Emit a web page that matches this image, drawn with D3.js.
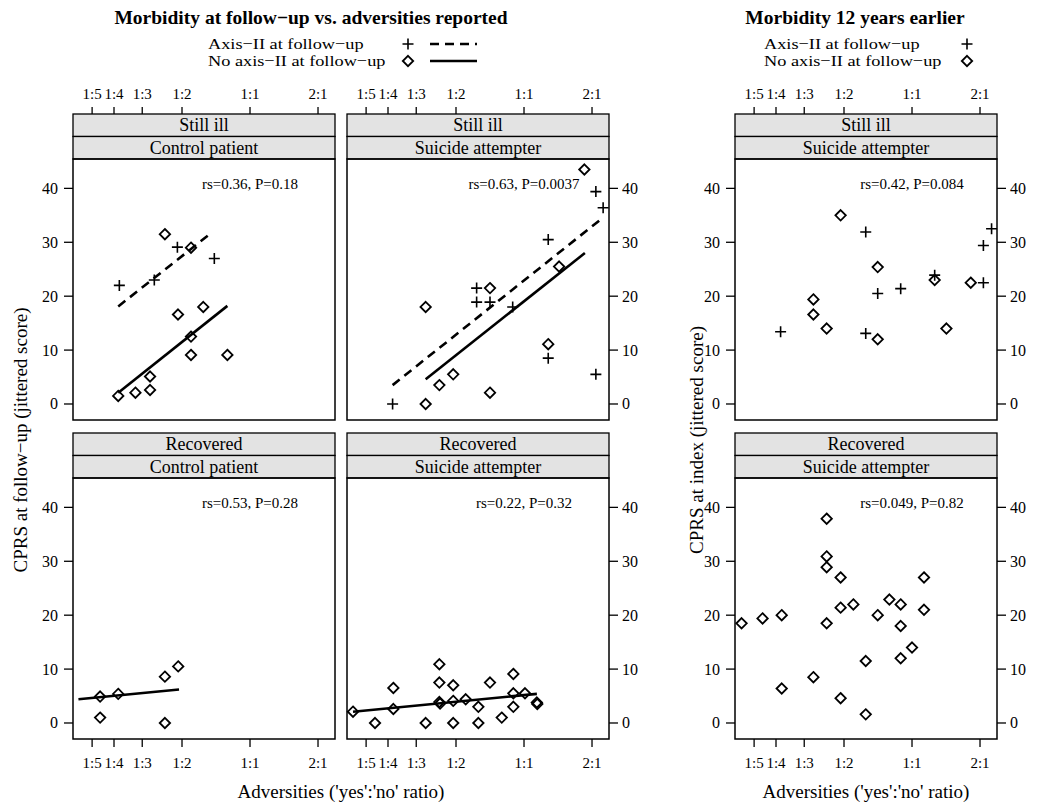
<!DOCTYPE html>
<html><head><meta charset="utf-8">
<script src="https://cdn.jsdelivr.net/npm/d3@7/dist/d3.min.js"></script>
<style>
body{margin:0;background:#fff;}
text{font-family:"Liberation Serif","Times New Roman",serif;fill:#000;}
</style></head>
<body>
<svg id="chart" width="1041" height="802"></svg>
<script>
// ---- tick data ----
const xTickValues = [1/5, 1/4, 1/3, 1/2, 1, 2];
const xTickLabels = ["1:5", "1:4", "1:3", "1:2", "1:1", "2:1"];
const yTickValues = [0, 10, 20, 30, 40];

// ---- panel 1: follow-up, Still ill, Control patient ----
const illControlAxisII = [[0.264,22],[0.377,23],[0.477,29.1],[0.695,27]];
const illControlNoAxisII = [[0.42,31.5],[0.548,29],[0.48,16.6],[0.621,18],[0.548,12.5],[0.548,9.1],[0.794,9.1],[0.361,5.1],[0.361,2.6],[0.311,2.1],[0.261,1.5]];
const illControlFitAxisII = [[0.261,18.1],[0.677,31.8]];
const illControlFitNoAxisII = [[0.261,2.1],[0.794,18.2]];

// ---- panel 2: follow-up, Still ill, Suicide attempter ----
const illSuicideAxisII = [[0.262,0],[0.617,21.5],[0.617,18.9],[0.707,18.9],[0.891,18],[1.28,30.5],[1.28,8.5],[2.08,39.4],[2.24,36.4],[2.08,5.5]];
const illSuicideNoAxisII = [[1.85,43.5],[0.707,21.5],[0.367,18],[1.43,25.5],[1.28,11.1],[0.486,5.5],[0.422,3.5],[0.707,2.1],[0.367,0]];
const illSuicideFitAxisII = [[0.262,3.5],[2.21,34.4]];
const illSuicideFitNoAxisII = [[0.367,4.6],[1.86,28]];

// ---- panel 3: follow-up, Recovered, Control patient ----
const recControlNoAxisII = [[0.217,4.9],[0.261,5.4],[0.217,1.0],[0.42,8.6],[0.481,10.5],[0.42,0]];
const recControlFitNoAxisII = [[0.174,4.4],[0.485,6.2]];

// ---- panel 4: follow-up, Recovered, Suicide attempter ----
const recSuicideNoAxisII = [[0.175,2.1],[0.219,0],[0.264,6.5],[0.264,2.6],[0.367,0],[0.422,10.9],[0.422,7.5],[0.422,3.9],[0.425,3.6],[0.486,7.0],[0.486,4.1],[0.486,0],[0.552,4.4],[0.628,3.0],[0.628,0],[0.707,7.5],[0.797,1.0],[0.897,9.1],[0.897,5.5],[0.897,3.0],[1.01,5.5],[1.14,3.8],[1.145,3.5]];
const recSuicideFitNoAxisII = [[0.175,2.1],[1.14,5.4]];

// ---- panel 5: 12 years earlier, Still ill, Suicide attempter ----
const earlyIllAxisII = [[0.262,13.4],[0.624,31.9],[0.624,13.1],[0.705,20.5],[0.891,21.4],[1.26,23.9],[2.07,29.4],[2.07,22.5],[2.25,32.5]];
const earlyIllNoAxisII = [[0.483,35],[0.366,19.4],[0.366,16.6],[0.419,14],[0.705,25.4],[0.705,12],[1.26,23],[1.42,14],[1.82,22.5]];

// ---- panel 6: 12 years earlier, Recovered, Suicide attempter ----
const earlyRecNoAxisII = [[0.176,18.5],[0.218,19.4],[0.265,20],[0.265,6.4],[0.366,8.5],[0.419,37.9],[0.419,30.9],[0.419,28.9],[0.419,18.5],[0.483,27],[0.483,21.4],[0.483,4.6],[0.55,22],[0.624,11.5],[0.624,1.6],[0.705,20],[0.794,22.9],[0.891,22],[0.891,18],[0.891,12],[1.0,14],[1.13,27],[1.13,21]];

const statLabels = ["rs=0.36, P=0.18","rs=0.63, P=0.0037","rs=0.53, P=0.28","rs=0.22, P=0.32","rs=0.42, P=0.084","rs=0.049, P=0.82"];

// ---- layout ----
const svg = d3.select("#chart");
const PW = 262, PH = 261, SH = 22.5;
const x = d3.scaleLog().domain([0.1646, 2.378]).range([0, PW]);
const y = d3.scaleLinear().domain([-2.97, 45.45]).range([PH, 0]);
const XFONT = 15, YFONT = 16;

const diamondPath = "M0,-5.2L5.2,0L0,5.2L-5.2,0Z";
const plusPath = "M-5.5,0H5.5M0,-5.5V5.5";

function panel(cfg) {
  const g = svg.append("g").attr("transform", `translate(${cfg.left},${cfg.top})`);
  cfg.strips.forEach((s, i) => {
    const sy = -SH * (cfg.strips.length - i);
    g.append("rect").attr("x", 0).attr("y", sy).attr("width", PW).attr("height", SH)
      .attr("fill", "#e3e3e3").attr("stroke", "#000").attr("stroke-width", 1.3);
    g.append("text").attr("x", PW / 2).attr("y", sy + SH / 2 + 6)
      .attr("text-anchor", "middle").attr("font-size", 18).text(s);
  });
  const stripTop = -SH * cfg.strips.length;
  g.append("rect").attr("x", 0).attr("y", 0).attr("width", PW).attr("height", PH)
    .attr("fill", "none").attr("stroke", "#000").attr("stroke-width", 1.5);
  const clipId = "clip" + cfg.left + "_" + cfg.top;
  g.append("clipPath").attr("id", clipId).append("rect").attr("width", PW).attr("height", PH);
  const plot = g.append("g").attr("clip-path", `url(#${clipId})`);

  const tickStroke = 1.3;
  if (cfg.xTop) {
    const a = g.append("g").attr("transform", `translate(0,${stripTop})`);
    xTickValues.forEach((v, i) => {
      a.append("line").attr("x1", x(v)).attr("x2", x(v)).attr("y1", 0).attr("y2", -7).attr("stroke", "#000").attr("stroke-width", tickStroke);
      a.append("text").attr("x", x(v)).attr("y", -15).attr("text-anchor", "middle").attr("font-size", XFONT).text(xTickLabels[i]);
    });
  }
  if (cfg.xBottom) {
    xTickValues.forEach((v, i) => {
      g.append("line").attr("x1", x(v)).attr("x2", x(v)).attr("y1", PH).attr("y2", PH + 8).attr("stroke", "#000").attr("stroke-width", tickStroke);
      g.append("text").attr("x", x(v)).attr("y", PH + 29).attr("text-anchor", "middle").attr("font-size", XFONT).text(xTickLabels[i]);
    });
  }
  if (cfg.yLeft) {
    yTickValues.forEach(v => {
      g.append("line").attr("x1", 0).attr("x2", -9).attr("y1", y(v)).attr("y2", y(v)).attr("stroke", "#000").attr("stroke-width", tickStroke);
      g.append("text").attr("x", -15).attr("y", y(v) + 5.5).attr("text-anchor", "end").attr("font-size", YFONT).text(v);
    });
  }
  if (cfg.yRight) {
    yTickValues.forEach(v => {
      g.append("line").attr("x1", PW).attr("x2", PW + 9).attr("y1", y(v)).attr("y2", y(v)).attr("stroke", "#000").attr("stroke-width", tickStroke);
      g.append("text").attr("x", PW + 13).attr("y", y(v) + 5.5).attr("text-anchor", "start").attr("font-size", YFONT).text(v);
    });
  }
  g.append("text").attr("x", x(1)).attr("y", y(40.9) + 5).attr("text-anchor", "middle")
    .attr("font-size", 15).text(cfg.stat);

  const line = d3.line().x(d => x(d[0])).y(d => y(d[1]));
  if (cfg.fitDashed) plot.append("path").datum(cfg.fitDashed).attr("d", line)
    .attr("stroke", "#000").attr("stroke-width", 2.6).attr("stroke-dasharray", "9,6").attr("fill", "none");
  if (cfg.fitSolid) plot.append("path").datum(cfg.fitSolid).attr("d", line)
    .attr("stroke", "#000").attr("stroke-width", 2.6).attr("fill", "none");

  const g2 = g.append("g");
  if (cfg.plus) g2.selectAll(".pl").data(cfg.plus).enter().append("path")
    .attr("transform", d => `translate(${x(d[0])},${y(d[1])})`).attr("d", plusPath)
    .attr("stroke", "#000").attr("stroke-width", 1.6).attr("fill", "none");
  if (cfg.diamond) g2.selectAll(".dm").data(cfg.diamond).enter().append("path")
    .attr("transform", d => `translate(${x(d[0])},${y(d[1])})`).attr("d", diamondPath)
    .attr("stroke", "#000").attr("stroke-width", 1.8).attr("fill", "none");
}

const L1 = 73, L2 = 347, L3 = 735, T1 = 159, T2 = 478;
panel({left: L1, top: T1, strips: ["Still ill", "Control patient"], xTop: true, yLeft: true,
  stat: statLabels[0], plus: illControlAxisII, diamond: illControlNoAxisII, fitDashed: illControlFitAxisII, fitSolid: illControlFitNoAxisII});
panel({left: L2, top: T1, strips: ["Still ill", "Suicide attempter"], xTop: true, yRight: true,
  stat: statLabels[1], plus: illSuicideAxisII, diamond: illSuicideNoAxisII, fitDashed: illSuicideFitAxisII, fitSolid: illSuicideFitNoAxisII});
panel({left: L1, top: T2, strips: ["Recovered", "Control patient"], xBottom: true, yLeft: true,
  stat: statLabels[2], diamond: recControlNoAxisII, fitSolid: recControlFitNoAxisII});
panel({left: L2, top: T2, strips: ["Recovered", "Suicide attempter"], xBottom: true, yRight: true,
  stat: statLabels[3], diamond: recSuicideNoAxisII, fitSolid: recSuicideFitNoAxisII});
panel({left: L3, top: T1, strips: ["Still ill", "Suicide attempter"], xTop: true, yLeft: true, yRight: true,
  stat: statLabels[4], plus: earlyIllAxisII, diamond: earlyIllNoAxisII});
panel({left: L3, top: T2, strips: ["Recovered", "Suicide attempter"], xBottom: true, yLeft: true, yRight: true,
  stat: statLabels[5], diamond: earlyRecNoAxisII});

// titles
svg.append("text").attr("x", 311).attr("y", 24).attr("text-anchor", "middle").attr("font-size", 19.5).attr("font-weight", "bold")
  .text("Morbidity at follow\u2212up vs. adversities reported");
svg.append("text").attr("x", 855).attr("y", 24).attr("text-anchor", "middle").attr("font-size", 19.5).attr("font-weight", "bold")
  .text("Morbidity 12 years earlier");

// legends
const legendLabels = ["Axis\u2212II at follow\u2212up", "No axis\u2212II at follow\u2212up"];
function legend(lx, symX, withLines) {
  legendLabels.forEach((t, i) => {
    const ly = 44 + i * 17;
    svg.append("text").attr("transform", `translate(${lx},${ly + 5}) scale(1.18,1)`)
      .attr("font-size", 15.5).text(t);
    svg.append("path").attr("transform", `translate(${symX},${ly})`).attr("d", i === 0 ? plusPath : diamondPath)
      .attr("stroke", "#000").attr("stroke-width", i === 0 ? 1.6 : 1.8).attr("fill", "none");
    if (withLines) {
      svg.append("line").attr("x1", symX + 22).attr("x2", symX + 69).attr("y1", ly).attr("y2", ly)
        .attr("stroke", "#000").attr("stroke-width", 2.6).attr("stroke-dasharray", i === 0 ? "9,6" : null);
    }
  });
}
legend(208, 408, true);
legend(764, 967, false);

// axis titles
svg.append("text").attr("transform", "translate(27,440) rotate(-90)").attr("text-anchor", "middle").attr("font-size", 19)
  .text("CPRS at follow\u2212up (jittered score)");
svg.append("text").attr("transform", "translate(703,440) rotate(-90)").attr("text-anchor", "middle").attr("font-size", 19)
  .text("CPRS at index (jittered score)");
svg.append("text").attr("x", 341).attr("y", 798).attr("text-anchor", "middle").attr("font-size", 19).text("Adversities ('yes':'no' ratio)");
svg.append("text").attr("x", 866).attr("y", 798).attr("text-anchor", "middle").attr("font-size", 19).text("Adversities ('yes':'no' ratio)");
</script>
</body></html>
